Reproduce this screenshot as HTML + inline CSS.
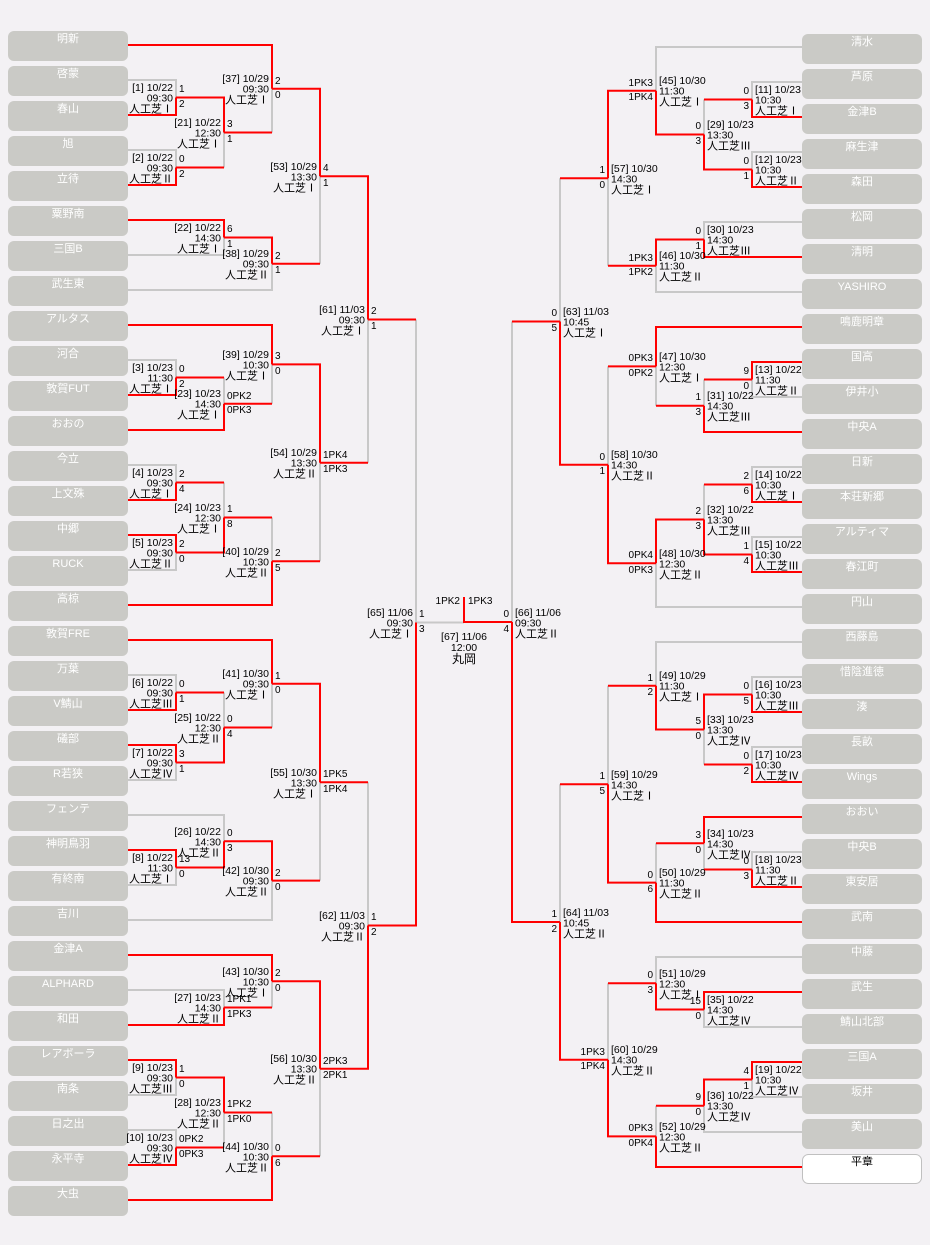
<!DOCTYPE html>
<html><head><meta charset="utf-8"><style>
html,body{margin:0;padding:0;background:#f3f1f4;}
svg{display:block;font-family:"Liberation Sans","Noto Sans CJK JP",sans-serif;}
.bx{fill:#cacac6;}
.tn{fill:#fff;font-size:11px;text-anchor:middle;}
.g{fill:none;stroke:#c8c8c8;stroke-width:2;}
.r{fill:none;stroke:#ff0000;stroke-width:2;}
.il{font-size:10.5px;text-anchor:end;fill:#000;}
.ir{font-size:10.5px;text-anchor:start;fill:#000;}
.big{font-size:11px;}
.sl{font-size:10px;text-anchor:start;fill:#000;}
.sr{font-size:10px;text-anchor:end;fill:#000;}
</style></head><body>
<svg width="930" height="1245" viewBox="0 0 930 1245" xmlns="http://www.w3.org/2000/svg">
<rect width="930" height="1245" fill="#f3f1f4"/>
<!-- left boxes -->
<g>
<rect class="bx" x="8" y="31" width="120" height="30" rx="6"/><text class="tn" x="68" y="42">明新</text>
<rect class="bx" x="8" y="66" width="120" height="30" rx="6"/><text class="tn" x="68" y="77">啓蒙</text>
<rect class="bx" x="8" y="101" width="120" height="30" rx="6"/><text class="tn" x="68" y="112">春山</text>
<rect class="bx" x="8" y="136" width="120" height="30" rx="6"/><text class="tn" x="68" y="147">旭</text>
<rect class="bx" x="8" y="171" width="120" height="30" rx="6"/><text class="tn" x="68" y="182">立待</text>
<rect class="bx" x="8" y="206" width="120" height="30" rx="6"/><text class="tn" x="68" y="217">粟野南</text>
<rect class="bx" x="8" y="241" width="120" height="30" rx="6"/><text class="tn" x="68" y="252">三国B</text>
<rect class="bx" x="8" y="276" width="120" height="30" rx="6"/><text class="tn" x="68" y="287">武生東</text>
<rect class="bx" x="8" y="311" width="120" height="30" rx="6"/><text class="tn" x="68" y="322">アルタス</text>
<rect class="bx" x="8" y="346" width="120" height="30" rx="6"/><text class="tn" x="68" y="357">河合</text>
<rect class="bx" x="8" y="381" width="120" height="30" rx="6"/><text class="tn" x="68" y="392">敦賀FUT</text>
<rect class="bx" x="8" y="416" width="120" height="30" rx="6"/><text class="tn" x="68" y="427">おおの</text>
<rect class="bx" x="8" y="451" width="120" height="30" rx="6"/><text class="tn" x="68" y="462">今立</text>
<rect class="bx" x="8" y="486" width="120" height="30" rx="6"/><text class="tn" x="68" y="497">上文殊</text>
<rect class="bx" x="8" y="521" width="120" height="30" rx="6"/><text class="tn" x="68" y="532">中郷</text>
<rect class="bx" x="8" y="556" width="120" height="30" rx="6"/><text class="tn" x="68" y="567">RUCK</text>
<rect class="bx" x="8" y="591" width="120" height="30" rx="6"/><text class="tn" x="68" y="602">高椋</text>
<rect class="bx" x="8" y="626" width="120" height="30" rx="6"/><text class="tn" x="68" y="637">敦賀FRE</text>
<rect class="bx" x="8" y="661" width="120" height="30" rx="6"/><text class="tn" x="68" y="672">万葉</text>
<rect class="bx" x="8" y="696" width="120" height="30" rx="6"/><text class="tn" x="68" y="707">V鯖山</text>
<rect class="bx" x="8" y="731" width="120" height="30" rx="6"/><text class="tn" x="68" y="742">礒部</text>
<rect class="bx" x="8" y="766" width="120" height="30" rx="6"/><text class="tn" x="68" y="777">R若狭</text>
<rect class="bx" x="8" y="801" width="120" height="30" rx="6"/><text class="tn" x="68" y="812">フェンテ</text>
<rect class="bx" x="8" y="836" width="120" height="30" rx="6"/><text class="tn" x="68" y="847">神明鳥羽</text>
<rect class="bx" x="8" y="871" width="120" height="30" rx="6"/><text class="tn" x="68" y="882">有終南</text>
<rect class="bx" x="8" y="906" width="120" height="30" rx="6"/><text class="tn" x="68" y="917">吉川</text>
<rect class="bx" x="8" y="941" width="120" height="30" rx="6"/><text class="tn" x="68" y="952">金津A</text>
<rect class="bx" x="8" y="976" width="120" height="30" rx="6"/><text class="tn" x="68" y="987">ALPHARD</text>
<rect class="bx" x="8" y="1011" width="120" height="30" rx="6"/><text class="tn" x="68" y="1022">和田</text>
<rect class="bx" x="8" y="1046" width="120" height="30" rx="6"/><text class="tn" x="68" y="1057">レアボーラ</text>
<rect class="bx" x="8" y="1081" width="120" height="30" rx="6"/><text class="tn" x="68" y="1092">南条</text>
<rect class="bx" x="8" y="1116" width="120" height="30" rx="6"/><text class="tn" x="68" y="1127">日之出</text>
<rect class="bx" x="8" y="1151" width="120" height="30" rx="6"/><text class="tn" x="68" y="1162">永平寺</text>
<rect class="bx" x="8" y="1186" width="120" height="30" rx="6"/><text class="tn" x="68" y="1197">大虫</text>
</g>
<!-- right boxes -->
<g>
<rect class="bx" x="802" y="34" width="120" height="30" rx="6"/><text class="tn" x="862" y="45">清水</text>
<rect class="bx" x="802" y="69" width="120" height="30" rx="6"/><text class="tn" x="862" y="80">芦原</text>
<rect class="bx" x="802" y="104" width="120" height="30" rx="6"/><text class="tn" x="862" y="115">金津B</text>
<rect class="bx" x="802" y="139" width="120" height="30" rx="6"/><text class="tn" x="862" y="150">麻生津</text>
<rect class="bx" x="802" y="174" width="120" height="30" rx="6"/><text class="tn" x="862" y="185">森田</text>
<rect class="bx" x="802" y="209" width="120" height="30" rx="6"/><text class="tn" x="862" y="220">松岡</text>
<rect class="bx" x="802" y="244" width="120" height="30" rx="6"/><text class="tn" x="862" y="255">清明</text>
<rect class="bx" x="802" y="279" width="120" height="30" rx="6"/><text class="tn" x="862" y="290">YASHIRO</text>
<rect class="bx" x="802" y="314" width="120" height="30" rx="6"/><text class="tn" x="862" y="325">鳴鹿明章</text>
<rect class="bx" x="802" y="349" width="120" height="30" rx="6"/><text class="tn" x="862" y="360">国高</text>
<rect class="bx" x="802" y="384" width="120" height="30" rx="6"/><text class="tn" x="862" y="395">伊井小</text>
<rect class="bx" x="802" y="419" width="120" height="30" rx="6"/><text class="tn" x="862" y="430">中央A</text>
<rect class="bx" x="802" y="454" width="120" height="30" rx="6"/><text class="tn" x="862" y="465">日新</text>
<rect class="bx" x="802" y="489" width="120" height="30" rx="6"/><text class="tn" x="862" y="500">本荘新郷</text>
<rect class="bx" x="802" y="524" width="120" height="30" rx="6"/><text class="tn" x="862" y="535">アルティマ</text>
<rect class="bx" x="802" y="559" width="120" height="30" rx="6"/><text class="tn" x="862" y="570">春江町</text>
<rect class="bx" x="802" y="594" width="120" height="30" rx="6"/><text class="tn" x="862" y="605">円山</text>
<rect class="bx" x="802" y="629" width="120" height="30" rx="6"/><text class="tn" x="862" y="640">西藤島</text>
<rect class="bx" x="802" y="664" width="120" height="30" rx="6"/><text class="tn" x="862" y="675">惜陰進徳</text>
<rect class="bx" x="802" y="699" width="120" height="30" rx="6"/><text class="tn" x="862" y="710">湊</text>
<rect class="bx" x="802" y="734" width="120" height="30" rx="6"/><text class="tn" x="862" y="745">長畝</text>
<rect class="bx" x="802" y="769" width="120" height="30" rx="6"/><text class="tn" x="862" y="780">Wings</text>
<rect class="bx" x="802" y="804" width="120" height="30" rx="6"/><text class="tn" x="862" y="815">おおい</text>
<rect class="bx" x="802" y="839" width="120" height="30" rx="6"/><text class="tn" x="862" y="850">中央B</text>
<rect class="bx" x="802" y="874" width="120" height="30" rx="6"/><text class="tn" x="862" y="885">東安居</text>
<rect class="bx" x="802" y="909" width="120" height="30" rx="6"/><text class="tn" x="862" y="920">武南</text>
<rect class="bx" x="802" y="944" width="120" height="30" rx="6"/><text class="tn" x="862" y="955">中藤</text>
<rect class="bx" x="802" y="979" width="120" height="30" rx="6"/><text class="tn" x="862" y="990">武生</text>
<rect class="bx" x="802" y="1014" width="120" height="30" rx="6"/><text class="tn" x="862" y="1025">鯖山北部</text>
<rect class="bx" x="802" y="1049" width="120" height="30" rx="6"/><text class="tn" x="862" y="1060">三国A</text>
<rect class="bx" x="802" y="1084" width="120" height="30" rx="6"/><text class="tn" x="862" y="1095">坂井</text>
<rect class="bx" x="802" y="1119" width="120" height="30" rx="6"/><text class="tn" x="862" y="1130">美山</text>
<rect x="802.5" y="1154.5" width="119" height="29" rx="6" fill="#fff" stroke="#c0c0c0"/><text class="tn" x="862" y="1165" style="fill:#000">平章</text>
</g>
<!-- gray lines -->
<path class="g" d="M128 80H176V97.5 M128 150H176V167.5 M224 167.5V132.5 M272 132.5V88.75 M128 255H224V237.5 M128 290H272V263.75 M320 263.75V176.25 M128 360H176V377.5 M224 377.5V403.75 M272 403.75V364.4 M128 465H176V482.5 M128 570H176V552.5 M224 482.5V517.5 M272 517.5V561.25 M320 561.25V462.8 M368 462.8V319.5 M128 675H176V692.5 M128 780H176V762.5 M224 692.5V727.5 M272 727.5V683.75 M128 885H176V867.5 M128 815H224V841.25 M128 920H272V880.6 M320 880.6V782.2 M128 990H224V1007.5 M272 1007.5V981.25 M128 1095H176V1077.5 M128 1130H176V1147.5 M224 1147.5V1112.5 M272 1112.5V1156.25 M320 1156.25V1068.75 M368 782.2V925.5 M416 319.5V622.5 M416 622.5H464"/>
<path class="g" d="M802 82H752V99.5 M802 152H752V169.5 M704 99.5V134.5 M802 47H656V90.75 M802 222H704V239.5 M802 292H656V265.75 M608 265.75V178.25 M802 397H752V379.5 M704 379.5V405.75 M656 405.75V366.4 M802 467H752V484.5 M802 537H752V554.5 M704 484.5V519.5 M802 607H656V563.25 M608 366.4V464.8 M560 178.25V321.5 M802 677H752V694.5 M802 747H752V764.5 M704 764.5V729.5 M802 642H656V685.75 M802 852H752V869.5 M704 869.5V843.25 M656 843.25V882.6 M608 685.75V784.2 M802 1027H704V1009.5 M802 957H656V983.25 M802 1097H752V1079.5 M802 1132H704V1105.75 M656 1105.75V1136.4 M608 983.25V1059.8 M560 784.2V922 M512 321.5V622"/>
<!-- red lines -->
<path class="r" d="M176 167.5H224 M224 132.5H272 M272 263.75H320 M176 377.5H224 M224 403.75H272 M176 482.5H224 M224 517.5H272 M272 561.25H320 M320 462.8H368 M176 692.5H224 M224 727.5H272 M272 880.6H320 M224 1007.5H272 M176 1147.5H224 M224 1112.5H272 M272 1156.25H320 M320 782.2H368 M368 319.5H416"/>
<path class="r" d="M128 115H176V97.5 M128 185H176V167.5 M176 97.5H224V132.5 M128 45H272V88.75 M128 220H224V237.5 M224 237.5H272V263.75 M272 88.75H320V176.25 M128 395H176V377.5 M128 430H224V403.75 M128 325H272V364.4 M128 500H176V482.5 M128 535H176V552.5 M176 552.5H224V517.5 M128 605H272V561.25 M272 364.4H320V462.8 M320 176.25H368V319.5 M128 710H176V692.5 M128 745H176V762.5 M176 762.5H224V727.5 M128 640H272V683.75 M128 850H176V867.5 M176 867.5H224V841.25 M224 841.25H272V880.6 M272 683.75H320V782.2 M128 1025H224V1007.5 M128 955H272V981.25 M128 1060H176V1077.5 M128 1165H176V1147.5 M176 1077.5H224V1112.5 M128 1200H272V1156.25 M272 981.25H320V1068.75 M320 1068.75H368V925.5 M368 925.5H416V622.5 M512 622H464V597"/>
<path class="r" d="M752 99.5H704 M656 265.75H608 M752 379.5H704 M704 405.75H656 M752 484.5H704 M656 366.4H608 M608 178.25H560 M752 764.5H704 M752 869.5H704 M704 843.25H656 M656 685.75H608 M704 1105.75H656 M656 983.25H608 M608 784.2H560 M560 321.5H512"/>
<path class="r" d="M802 117H752V99.5 M802 187H752V169.5 M752 169.5H704V134.5 M704 134.5H656V90.75 M802 257H704V239.5 M704 239.5H656V265.75 M656 90.75H608V178.25 M802 362H752V379.5 M802 432H704V405.75 M802 327H656V366.4 M802 502H752V484.5 M802 572H752V554.5 M752 554.5H704V519.5 M704 519.5H656V563.25 M656 563.25H608V464.8 M608 464.8H560V321.5 M802 712H752V694.5 M802 782H752V764.5 M752 694.5H704V729.5 M704 729.5H656V685.75 M802 887H752V869.5 M802 817H704V843.25 M802 922H656V882.6 M656 882.6H608V784.2 M802 992H704V1009.5 M704 1009.5H656V983.25 M802 1062H752V1079.5 M752 1079.5H704V1105.75 M802 1167H656V1136.4 M656 1136.4H608V1059.8 M608 1059.8H560V922 M560 922H512V622"/>

<!-- left info -->
<g class="il">
<text x="173" y="91">[1] 10/22<tspan x="173" dy="10.5">09:30</tspan><tspan class="big" x="173" dy="11">人工芝Ⅰ</tspan></text>
<text x="173" y="161">[2] 10/22<tspan x="173" dy="10.5">09:30</tspan><tspan class="big" x="173" dy="11">人工芝Ⅱ</tspan></text>
<text x="221" y="126">[21] 10/22<tspan x="221" dy="10.5">12:30</tspan><tspan class="big" x="221" dy="11">人工芝Ⅰ</tspan></text>
<text x="269" y="82">[37] 10/29<tspan x="269" dy="10.5">09:30</tspan><tspan class="big" x="269" dy="11">人工芝Ⅰ</tspan></text>
<text x="221" y="231">[22] 10/22<tspan x="221" dy="10.5">14:30</tspan><tspan class="big" x="221" dy="11">人工芝Ⅰ</tspan></text>
<text x="269" y="257">[38] 10/29<tspan x="269" dy="10.5">09:30</tspan><tspan class="big" x="269" dy="11">人工芝Ⅱ</tspan></text>
<text x="317" y="170">[53] 10/29<tspan x="317" dy="10.5">13:30</tspan><tspan class="big" x="317" dy="11">人工芝Ⅰ</tspan></text>
<text x="173" y="371">[3] 10/23<tspan x="173" dy="10.5">11:30</tspan><tspan class="big" x="173" dy="11">人工芝Ⅰ</tspan></text>
<text x="221" y="397">[23] 10/23<tspan x="221" dy="10.5">14:30</tspan><tspan class="big" x="221" dy="11">人工芝Ⅰ</tspan></text>
<text x="269" y="358">[39] 10/29<tspan x="269" dy="10.5">10:30</tspan><tspan class="big" x="269" dy="11">人工芝Ⅰ</tspan></text>
<text x="173" y="476">[4] 10/23<tspan x="173" dy="10.5">09:30</tspan><tspan class="big" x="173" dy="11">人工芝Ⅰ</tspan></text>
<text x="173" y="546">[5] 10/23<tspan x="173" dy="10.5">09:30</tspan><tspan class="big" x="173" dy="11">人工芝Ⅱ</tspan></text>
<text x="221" y="511">[24] 10/23<tspan x="221" dy="10.5">12:30</tspan><tspan class="big" x="221" dy="11">人工芝Ⅰ</tspan></text>
<text x="269" y="555">[40] 10/29<tspan x="269" dy="10.5">10:30</tspan><tspan class="big" x="269" dy="11">人工芝Ⅱ</tspan></text>
<text x="317" y="456">[54] 10/29<tspan x="317" dy="10.5">13:30</tspan><tspan class="big" x="317" dy="11">人工芝Ⅱ</tspan></text>
<text x="365" y="313">[61] 11/03<tspan x="365" dy="10.5">09:30</tspan><tspan class="big" x="365" dy="11">人工芝Ⅰ</tspan></text>
<text x="173" y="686">[6] 10/22<tspan x="173" dy="10.5">09:30</tspan><tspan class="big" x="173" dy="11">人工芝Ⅲ</tspan></text>
<text x="173" y="756">[7] 10/22<tspan x="173" dy="10.5">09:30</tspan><tspan class="big" x="173" dy="11">人工芝Ⅳ</tspan></text>
<text x="221" y="721">[25] 10/22<tspan x="221" dy="10.5">12:30</tspan><tspan class="big" x="221" dy="11">人工芝Ⅱ</tspan></text>
<text x="269" y="677">[41] 10/30<tspan x="269" dy="10.5">09:30</tspan><tspan class="big" x="269" dy="11">人工芝Ⅰ</tspan></text>
<text x="173" y="861">[8] 10/22<tspan x="173" dy="10.5">11:30</tspan><tspan class="big" x="173" dy="11">人工芝Ⅰ</tspan></text>
<text x="221" y="835">[26] 10/22<tspan x="221" dy="10.5">14:30</tspan><tspan class="big" x="221" dy="11">人工芝Ⅱ</tspan></text>
<text x="269" y="874">[42] 10/30<tspan x="269" dy="10.5">09:30</tspan><tspan class="big" x="269" dy="11">人工芝Ⅱ</tspan></text>
<text x="317" y="776">[55] 10/30<tspan x="317" dy="10.5">13:30</tspan><tspan class="big" x="317" dy="11">人工芝Ⅰ</tspan></text>
<text x="221" y="1001">[27] 10/23<tspan x="221" dy="10.5">14:30</tspan><tspan class="big" x="221" dy="11">人工芝Ⅱ</tspan></text>
<text x="269" y="975">[43] 10/30<tspan x="269" dy="10.5">10:30</tspan><tspan class="big" x="269" dy="11">人工芝Ⅰ</tspan></text>
<text x="173" y="1071">[9] 10/23<tspan x="173" dy="10.5">09:30</tspan><tspan class="big" x="173" dy="11">人工芝Ⅲ</tspan></text>
<text x="173" y="1141">[10] 10/23<tspan x="173" dy="10.5">09:30</tspan><tspan class="big" x="173" dy="11">人工芝Ⅳ</tspan></text>
<text x="221" y="1106">[28] 10/23<tspan x="221" dy="10.5">12:30</tspan><tspan class="big" x="221" dy="11">人工芝Ⅱ</tspan></text>
<text x="269" y="1150">[44] 10/30<tspan x="269" dy="10.5">10:30</tspan><tspan class="big" x="269" dy="11">人工芝Ⅱ</tspan></text>
<text x="317" y="1062">[56] 10/30<tspan x="317" dy="10.5">13:30</tspan><tspan class="big" x="317" dy="11">人工芝Ⅱ</tspan></text>
<text x="365" y="919">[62] 11/03<tspan x="365" dy="10.5">09:30</tspan><tspan class="big" x="365" dy="11">人工芝Ⅱ</tspan></text>
<text x="413" y="616">[65] 11/06<tspan x="413" dy="10.5">09:30</tspan><tspan class="big" x="413" dy="11">人工芝Ⅰ</tspan></text>
</g>
<!-- left scores -->
<g class="sl">
<text x="179" y="92">1</text><text x="179" y="107">2</text>
<text x="179" y="162">0</text><text x="179" y="177">2</text>
<text x="227" y="127">3</text><text x="227" y="142">1</text>
<text x="275" y="84">2</text><text x="275" y="98">0</text>
<text x="227" y="232">6</text><text x="227" y="247">1</text>
<text x="275" y="259">2</text><text x="275" y="273">1</text>
<text x="323" y="171">4</text><text x="323" y="186">1</text>
<text x="179" y="372">0</text><text x="179" y="387">2</text>
<text x="227" y="399">0PK2</text><text x="227" y="413">0PK3</text>
<text x="275" y="359">3</text><text x="275" y="374">0</text>
<text x="179" y="477">2</text><text x="179" y="492">4</text>
<text x="179" y="547">2</text><text x="179" y="562">0</text>
<text x="227" y="512">1</text><text x="227" y="527">8</text>
<text x="275" y="556">2</text><text x="275" y="571">5</text>
<text x="323" y="458">1PK4</text><text x="323" y="472">1PK3</text>
<text x="371" y="314">2</text><text x="371" y="329">1</text>
<text x="179" y="687">0</text><text x="179" y="702">1</text>
<text x="179" y="757">3</text><text x="179" y="772">1</text>
<text x="227" y="722">0</text><text x="227" y="737">4</text>
<text x="275" y="679">1</text><text x="275" y="693">0</text>
<text x="179" y="862">13</text><text x="179" y="877">0</text>
<text x="227" y="836">0</text><text x="227" y="851">3</text>
<text x="275" y="876">2</text><text x="275" y="890">0</text>
<text x="323" y="777">1PK5</text><text x="323" y="792">1PK4</text>
<text x="227" y="1002">1PK1</text><text x="227" y="1017">1PK3</text>
<text x="275" y="976">2</text><text x="275" y="991">0</text>
<text x="179" y="1072">1</text><text x="179" y="1087">0</text>
<text x="179" y="1142">0PK2</text><text x="179" y="1157">0PK3</text>
<text x="227" y="1107">1PK2</text><text x="227" y="1122">1PK0</text>
<text x="275" y="1151">0</text><text x="275" y="1166">6</text>
<text x="323" y="1064">2PK3</text><text x="323" y="1078">2PK1</text>
<text x="371" y="920">1</text><text x="371" y="935">2</text>
<text x="419" y="617">1</text><text x="419" y="632">3</text>
</g>
<!-- right info -->
<g class="ir">
<text x="755" y="93">[11] 10/23<tspan x="755" dy="10.5">10:30</tspan><tspan class="big" x="755" dy="11">人工芝Ⅰ</tspan></text>
<text x="755" y="163">[12] 10/23<tspan x="755" dy="10.5">10:30</tspan><tspan class="big" x="755" dy="11">人工芝Ⅱ</tspan></text>
<text x="707" y="128">[29] 10/23<tspan x="707" dy="10.5">13:30</tspan><tspan class="big" x="707" dy="11">人工芝Ⅲ</tspan></text>
<text x="659" y="84">[45] 10/30<tspan x="659" dy="10.5">11:30</tspan><tspan class="big" x="659" dy="11">人工芝Ⅰ</tspan></text>
<text x="707" y="233">[30] 10/23<tspan x="707" dy="10.5">14:30</tspan><tspan class="big" x="707" dy="11">人工芝Ⅲ</tspan></text>
<text x="659" y="259">[46] 10/30<tspan x="659" dy="10.5">11:30</tspan><tspan class="big" x="659" dy="11">人工芝Ⅱ</tspan></text>
<text x="611" y="172">[57] 10/30<tspan x="611" dy="10.5">14:30</tspan><tspan class="big" x="611" dy="11">人工芝Ⅰ</tspan></text>
<text x="755" y="373">[13] 10/22<tspan x="755" dy="10.5">11:30</tspan><tspan class="big" x="755" dy="11">人工芝Ⅱ</tspan></text>
<text x="707" y="399">[31] 10/22<tspan x="707" dy="10.5">14:30</tspan><tspan class="big" x="707" dy="11">人工芝Ⅲ</tspan></text>
<text x="659" y="360">[47] 10/30<tspan x="659" dy="10.5">12:30</tspan><tspan class="big" x="659" dy="11">人工芝Ⅰ</tspan></text>
<text x="755" y="478">[14] 10/22<tspan x="755" dy="10.5">10:30</tspan><tspan class="big" x="755" dy="11">人工芝Ⅰ</tspan></text>
<text x="755" y="548">[15] 10/22<tspan x="755" dy="10.5">10:30</tspan><tspan class="big" x="755" dy="11">人工芝Ⅲ</tspan></text>
<text x="707" y="513">[32] 10/22<tspan x="707" dy="10.5">13:30</tspan><tspan class="big" x="707" dy="11">人工芝Ⅲ</tspan></text>
<text x="659" y="557">[48] 10/30<tspan x="659" dy="10.5">12:30</tspan><tspan class="big" x="659" dy="11">人工芝Ⅱ</tspan></text>
<text x="611" y="458">[58] 10/30<tspan x="611" dy="10.5">14:30</tspan><tspan class="big" x="611" dy="11">人工芝Ⅱ</tspan></text>
<text x="563" y="315">[63] 11/03<tspan x="563" dy="10.5">10:45</tspan><tspan class="big" x="563" dy="11">人工芝Ⅰ</tspan></text>
<text x="755" y="688">[16] 10/23<tspan x="755" dy="10.5">10:30</tspan><tspan class="big" x="755" dy="11">人工芝Ⅲ</tspan></text>
<text x="755" y="758">[17] 10/23<tspan x="755" dy="10.5">10:30</tspan><tspan class="big" x="755" dy="11">人工芝Ⅳ</tspan></text>
<text x="707" y="723">[33] 10/23<tspan x="707" dy="10.5">13:30</tspan><tspan class="big" x="707" dy="11">人工芝Ⅳ</tspan></text>
<text x="659" y="679">[49] 10/29<tspan x="659" dy="10.5">11:30</tspan><tspan class="big" x="659" dy="11">人工芝Ⅰ</tspan></text>
<text x="755" y="863">[18] 10/23<tspan x="755" dy="10.5">11:30</tspan><tspan class="big" x="755" dy="11">人工芝Ⅱ</tspan></text>
<text x="707" y="837">[34] 10/23<tspan x="707" dy="10.5">14:30</tspan><tspan class="big" x="707" dy="11">人工芝Ⅳ</tspan></text>
<text x="659" y="876">[50] 10/29<tspan x="659" dy="10.5">11:30</tspan><tspan class="big" x="659" dy="11">人工芝Ⅱ</tspan></text>
<text x="611" y="778">[59] 10/29<tspan x="611" dy="10.5">14:30</tspan><tspan class="big" x="611" dy="11">人工芝Ⅰ</tspan></text>
<text x="707" y="1003">[35] 10/22<tspan x="707" dy="10.5">14:30</tspan><tspan class="big" x="707" dy="11">人工芝Ⅳ</tspan></text>
<text x="659" y="977">[51] 10/29<tspan x="659" dy="10.5">12:30</tspan><tspan class="big" x="659" dy="11">人工芝Ⅰ</tspan></text>
<text x="755" y="1073">[19] 10/22<tspan x="755" dy="10.5">10:30</tspan><tspan class="big" x="755" dy="11">人工芝Ⅳ</tspan></text>
<text x="707" y="1099">[36] 10/22<tspan x="707" dy="10.5">13:30</tspan><tspan class="big" x="707" dy="11">人工芝Ⅳ</tspan></text>
<text x="659" y="1130">[52] 10/29<tspan x="659" dy="10.5">12:30</tspan><tspan class="big" x="659" dy="11">人工芝Ⅱ</tspan></text>
<text x="611" y="1053">[60] 10/29<tspan x="611" dy="10.5">14:30</tspan><tspan class="big" x="611" dy="11">人工芝Ⅱ</tspan></text>
<text x="563" y="916">[64] 11/03<tspan x="563" dy="10.5">10:45</tspan><tspan class="big" x="563" dy="11">人工芝Ⅱ</tspan></text>
<text x="515" y="616">[66] 11/06<tspan x="515" dy="10.5">09:30</tspan><tspan class="big" x="515" dy="11">人工芝Ⅱ</tspan></text>
</g>
<!-- right scores -->
<g class="sr">
<text x="749" y="94">0</text><text x="749" y="109">3</text>
<text x="749" y="164">0</text><text x="749" y="179">1</text>
<text x="701" y="129">0</text><text x="701" y="144">3</text>
<text x="653" y="86">1PK3</text><text x="653" y="100">1PK4</text>
<text x="701" y="234">0</text><text x="701" y="249">1</text>
<text x="653" y="261">1PK3</text><text x="653" y="275">1PK2</text>
<text x="605" y="173">1</text><text x="605" y="188">0</text>
<text x="749" y="374">9</text><text x="749" y="389">0</text>
<text x="701" y="400">1</text><text x="701" y="415">3</text>
<text x="653" y="361">0PK3</text><text x="653" y="376">0PK2</text>
<text x="749" y="479">2</text><text x="749" y="494">6</text>
<text x="749" y="549">1</text><text x="749" y="564">4</text>
<text x="701" y="514">2</text><text x="701" y="529">3</text>
<text x="653" y="558">0PK4</text><text x="653" y="573">0PK3</text>
<text x="605" y="460">0</text><text x="605" y="474">1</text>
<text x="557" y="316">0</text><text x="557" y="331">5</text>
<text x="749" y="689">0</text><text x="749" y="704">5</text>
<text x="749" y="759">0</text><text x="749" y="774">2</text>
<text x="701" y="724">5</text><text x="701" y="739">0</text>
<text x="653" y="681">1</text><text x="653" y="695">2</text>
<text x="749" y="864">0</text><text x="749" y="879">3</text>
<text x="701" y="838">3</text><text x="701" y="853">0</text>
<text x="653" y="878">0</text><text x="653" y="892">6</text>
<text x="605" y="779">1</text><text x="605" y="794">5</text>
<text x="701" y="1004">15</text><text x="701" y="1019">0</text>
<text x="653" y="978">0</text><text x="653" y="993">3</text>
<text x="749" y="1074">4</text><text x="749" y="1089">1</text>
<text x="701" y="1100">9</text><text x="701" y="1115">0</text>
<text x="653" y="1131">0PK3</text><text x="653" y="1146">0PK4</text>
<text x="605" y="1055">1PK3</text><text x="605" y="1069">1PK4</text>
<text x="557" y="917">1</text><text x="557" y="932">2</text>
<text x="509" y="617">0</text><text x="509" y="632">4</text>
</g>
<!-- final -->
<text class="sr" x="460" y="604">1PK2</text>
<text class="sl" x="468" y="604">1PK3</text>
<g font-size="10.5" text-anchor="middle">
<text x="464" y="640">[67] 11/06</text>
<text x="464" y="651">12:00</text>
<text x="464" y="663" font-size="12">丸岡</text>
</g>
</svg>
</body></html>
